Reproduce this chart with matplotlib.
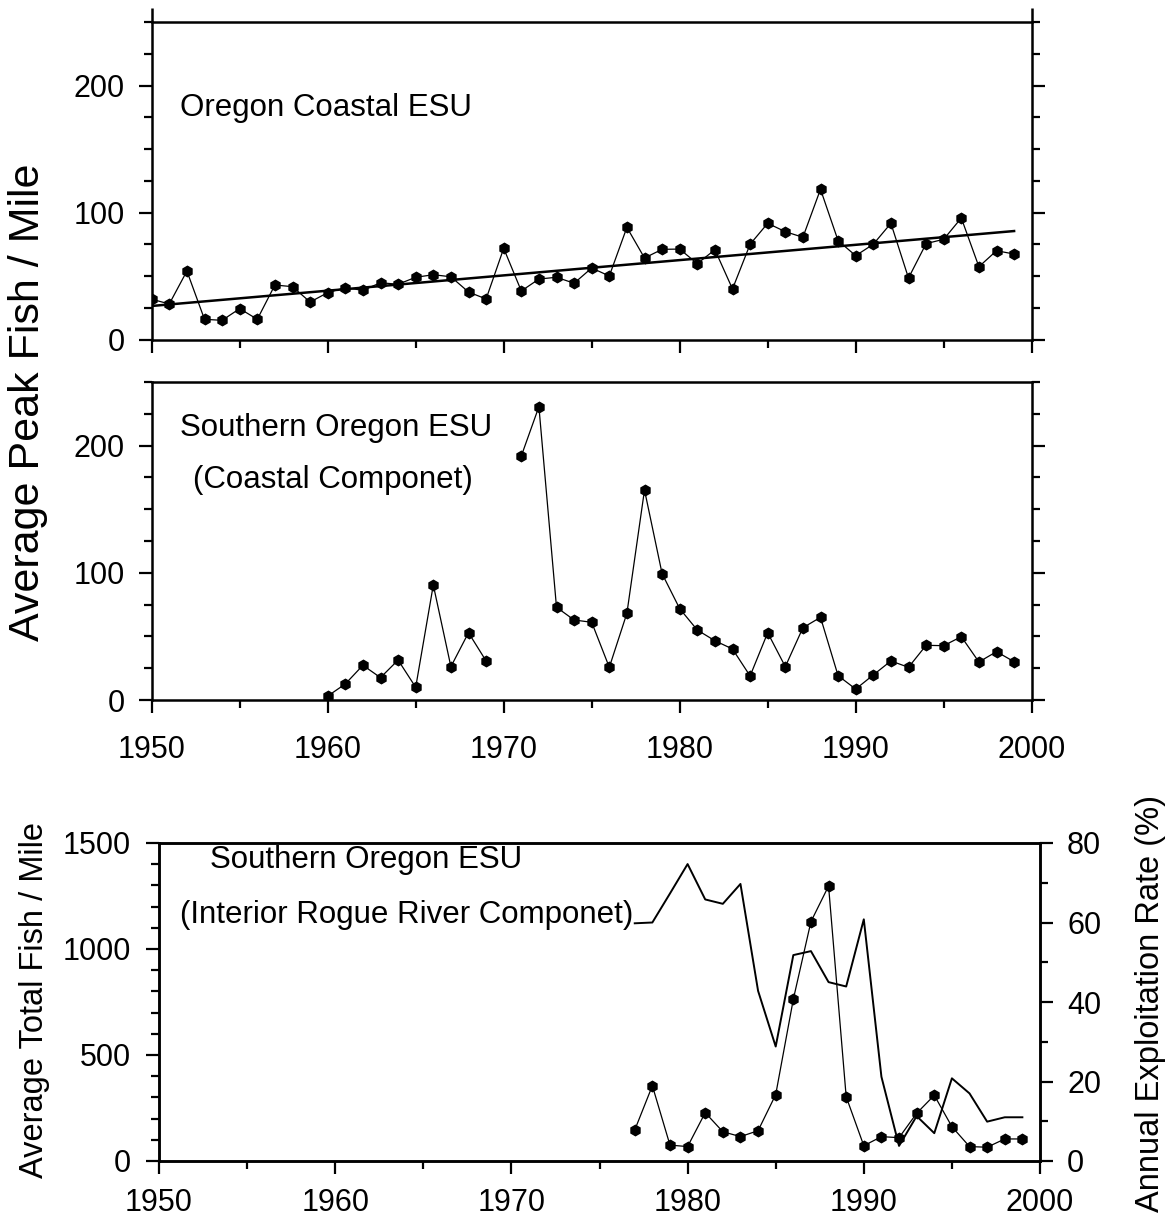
import matplotlib
matplotlib.use("Agg")
import matplotlib.pyplot as plt
from matplotlib.ticker import MultipleLocator, NullFormatter
import numpy as np

plt.rcParams['font.family'] = ['Liberation Sans', 'DejaVu Sans']

# ---------------- data ----------------
years_coastal = list(range(1950, 2000))
coastal_values = [31.7, 28, 53.9, 15.9, 15.1, 24.3, 15.9, 42.9, 41.6, 29.5,
                  36.9, 40.8, 38.7, 44.7, 43.5, 49, 51, 49.4, 37.4, 31.9,
                  71.8, 38.2, 47.6, 49, 44.3, 56.3, 50, 88.3, 64.2, 71,
                  71.2, 59.7, 70.7, 39.8, 75, 91.5, 84.9, 80.5, 118.3, 77.8,
                  66, 75, 91.5, 48.4, 75.5, 78.9, 95.7, 57.3, 69.9, 67.3]
trend_years = [1950, 1999]
trend_values = [26.4, 85.4]

years_south_a = list(range(1960, 1970))
south_a_values = [3.1, 12.6, 27.3, 17.6, 31.4, 10, 90.4, 26.2, 52.9, 30.7]
years_south_b = list(range(1971, 2000))
south_b_values = [191.8, 230.6, 72.9, 62.9, 61.1, 25.7, 68.2, 165.1, 99.3, 71.8,
                  55, 46.6, 40.1, 18.9, 52.9, 26.2, 56.8, 65, 19.1, 8.6,
                  19.7, 30.7, 25.7, 43, 42.7, 49.8, 29.9, 38, 30.1]

years_rogue = list(range(1977, 2000))
rogue_fish = [146, 355, 75, 68, 228, 138, 115, 143, 313, 763, 1129, 1297, 303,
              72, 115, 110, 225, 310, 162, 68, 65, 104, 104]
rogue_exploit = [59.8, 60, 67.3, 74.7, 65.8, 64.7, 69.7, 42.8, 28.8, 51.8,
                 52.8, 45, 43.9, 60.8, 21.2, 3.8, 11.3, 7, 20.8, 17, 9.9, 11, 11]

# ---------------- figure ----------------
fig = plt.figure(figsize=(11.7, 12.28), dpi=100)
W, H = 1170.0, 1228.0

def box(l, t, r, b):
    return [l / W, 1 - b / H, (r - l) / W, (b - t) / H]

ax1 = fig.add_axes(box(151.7, 22, 1031.7, 339.5))
ax2 = fig.add_axes(box(151.7, 382, 1031.7, 700))
ax3 = fig.add_axes(box(159, 843, 1040, 1161))

TICK_FS = 22
ANN_FS = 22.5
SPW = 1.8

def style(ax, ymaj, ymin, xlabels=True, right_ticks=True, xpad=17, ypad=11):
    for s in ax.spines.values():
        s.set_linewidth(SPW)
    ax.set_xlim(1950, 2000)
    ax.xaxis.set_major_locator(MultipleLocator(10))
    ax.xaxis.set_minor_locator(MultipleLocator(5))
    ax.yaxis.set_major_locator(MultipleLocator(ymaj))
    ax.yaxis.set_minor_locator(MultipleLocator(ymin))
    ax.tick_params(axis='both', which='major', direction='out', length=9.5,
                   width=1.6, labelsize=TICK_FS)
    ax.tick_params(axis='both', which='minor', direction='out', length=5.5,
                   width=1.6)
    ax.tick_params(axis='x', which='both', top=False, pad=xpad)
    ax.tick_params(axis='y', which='both', right=right_ticks, pad=ypad)
    if not xlabels:
        ax.xaxis.set_major_formatter(NullFormatter())

# top panel
ax1.plot(years_coastal, coastal_values, color='black', lw=0.9,
         marker='h', ms=7.5, mfc='black', mec='black')
ax1.plot(trend_years, trend_values, color='black', lw=1.8)
ax1.set_ylim(0, 250)
style(ax1, 100, 25, xlabels=False, ypad=10)
ax1.text(1951.6, 182, 'Oregon Coastal ESU', fontsize=ANN_FS, va='center', ha='left')
# spine overshoot above the top
for xx in (0, 1):
    ax1.plot([xx, xx], [1, 1 + 14 / 317.5], transform=ax1.transAxes,
             color='black', lw=SPW, clip_on=False, solid_capstyle='butt')

# middle panel
ax2.plot(years_south_a, south_a_values, color='black', lw=0.9,
         marker='h', ms=7.5, mfc='black', mec='black')
ax2.plot(years_south_b, south_b_values, color='black', lw=0.9,
         marker='h', ms=7.5, mfc='black', mec='black')
ax2.set_ylim(0, 250)
style(ax2, 100, 25, xlabels=True, xpad=16, ypad=10)
ax2.text(1951.6, 214, 'Southern Oregon ESU', fontsize=ANN_FS, va='center', ha='left')
ax2.text(1952.35, 173, '(Coastal Componet)', fontsize=ANN_FS, va='center', ha='left')

# bottom panel
ax3.plot(years_rogue, rogue_fish, color='black', lw=0.9,
         marker='h', ms=7.5, mfc='black', mec='black')
ax3.set_ylim(0, 1500)
style(ax3, 500, 100, xlabels=True, right_ticks=False, xpad=10, ypad=11)
ax3b = ax3.twinx()
ax3b.plot(years_rogue, rogue_exploit, color='black', lw=1.4)
ax3b.set_ylim(0, 80)
for s in ax3b.spines.values():
    s.set_linewidth(SPW)
ax3b.yaxis.set_major_locator(MultipleLocator(20))
ax3b.yaxis.set_minor_locator(MultipleLocator(10))
ax3b.tick_params(axis='y', which='major', direction='out', length=9.5, width=1.6,
                 labelsize=TICK_FS, pad=10)
ax3b.tick_params(axis='y', which='minor', direction='out', length=5.5, width=1.6)
ax3.text(1952.9, 1420, 'Southern Oregon ESU', fontsize=ANN_FS, va='center', ha='left')
ax3.text(1951.2, 1160, '(Interior Rogue River Componet)', fontsize=ANN_FS,
         va='center', ha='left')

# axis titles
fig.text(28 / W, 1 - 402 / H, 'Average Peak Fish / Mile', rotation=90,
         fontsize=31, ha='center', va='center')
fig.text(35 / W, 1 - 1000 / H, 'Average Total Fish / Mile', rotation=90,
         fontsize=23.5, ha='center', va='center')
fig.text(1150 / W, 1 - 1003 / H, 'Annual Exploitation Rate (%)', rotation=90,
         fontsize=23.5, ha='center', va='center')

fig.savefig('out.png', dpi=100)
